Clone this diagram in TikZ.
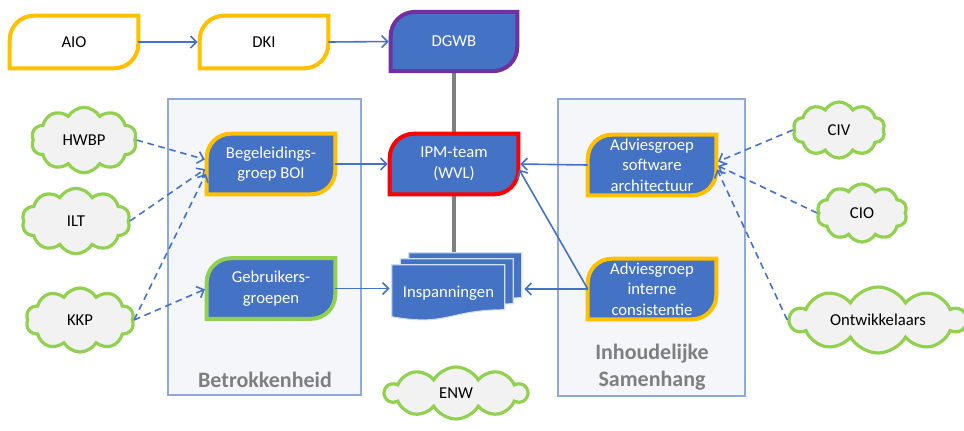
\documentclass[tikz,border=0pt]{standalone}
\usepackage{fontspec}
\setmainfont{Carlito}
\usetikzlibrary{shapes.symbols,arrows.meta,calc,positioning}

\definecolor{fillblue}{HTML}{4472C4}
\definecolor{lineblue}{HTML}{4472C4}
\definecolor{boxyellow}{HTML}{FFC000}
\definecolor{boxgreen}{HTML}{92D050}
\definecolor{boxred}{HTML}{FF0000}
\definecolor{boxpurple}{HTML}{7030A0}
\definecolor{panelfill}{HTML}{F4F6FA}
\definecolor{panelline}{HTML}{8EA9DB}
\definecolor{cloudfill}{HTML}{F2F2F2}
\definecolor{labelgray}{HTML}{7F7F7F}

\pgfdeclarelayer{panel}
\pgfdeclarelayer{bg}
\pgfsetlayers{panel,bg,main}

\newcommand\leaf[3]{%
  \begin{pgfonlayer}{bg}
  \draw[line width=3pt,draw=#2,fill=#3] (#1.south west) -- ([yshift=-18pt]#1.north west)
    arc[start angle=180,end angle=90,radius=18pt] -- (#1.north east) -- ([yshift=18pt]#1.south east)
    arc[start angle=0,end angle=-90,radius=18pt] -- cycle;
  \end{pgfonlayer}}

\newcommand\docsheet[2]{%
  \begin{pgfonlayer}{bg}
  \begin{scope}[shift={(insp.north west)},shift={(#1,#2)}]
  \draw[fill=fillblue,draw=white!75!fillblue,line width=0.8pt] (0,0) -- (113,0) -- (113,-45)
    .. controls (56.5,-45) and (56.5,-62) .. (0,-52) -- cycle;
  \end{scope}
  \end{pgfonlayer}}

\begin{document}
\begin{tikzpicture}[x=0.75pt,y=0.75pt,
  leafbox/.style={minimum width=96pt,minimum height=45pt,inner sep=0pt,align=center,
    text=white,font=\fontsize{12.5}{15.5}\selectfont},
  topbox/.style={leafbox,minimum height=39pt,text=black},
  docbox/.style={minimum width=84.75pt,minimum height=42pt,inner sep=0pt,text=white,
    font=\fontsize{12.5}{15.5}\selectfont},
  cloudnode/.style={cloud,cloud puffs=10,cloud puff arc=120,cloud ignores aspect,draw=boxgreen,
    fill=cloudfill,line width=2.4pt,inner sep=0pt,font=\fontsize{12.5}{15.5}\selectfont},
  panellabel/.style={align=center,text=labelgray,font=\fontsize{16.5}{20}\selectfont\bfseries},
  flow/.style={draw=lineblue,line width=1.2pt,shorten >=1.5pt,-{Straight Barb[length=4.5pt,width=9pt]}},
  dashflow/.style={flow,dash pattern=on 5pt off 3.5pt},
  link/.style={draw=labelgray,line width=3pt}]

\useasboundingbox (0,0) rectangle (964,-430);

\begin{pgfonlayer}{panel}
\draw[panelline,fill=panelfill,line width=0.8pt] (168,-99) rectangle (361,-395);
\draw[panelline,fill=panelfill,line width=0.8pt] (558,-99) rectangle (745,-396);
\end{pgfonlayer}
\node[panellabel] (betr) at (265,-380) {Betrokkenheid};
\node[panellabel] (samh) at (652,-367) {Inhoudelijke\\Samenhang};

\node[topbox] (aio) at (74,-42) {AIO};
\node[topbox] (dki) at (264,-42) {DKI};
\node[leafbox,minimum width=94.5pt,minimum height=44pt] (dgwb) at (454,-41.5) {DGWB};
\node[leafbox] (bog) at (271,-164) {Begeleidings-\\groep BOI};
\node[leafbox] (gebr) at (271,-288.5) {Gebruikers-\\groepen};
\node[leafbox] (ipm) at (454,-164) {IPM-team\\(WVL)};
\node[leafbox] (advsw) at (652,-165) {Adviesgroep\\software\\architectuur};
\node[leafbox] (advic) at (652,-289) {Adviesgroep\\interne\\consistentie};
\node[docbox] (insp) at (448.5,-293) {Inspanningen};
\coordinate (insptop) at ([shift={(17,12)}]insp.north);
\coordinate (inspback) at ([shift={(17,0)}]insp.east);

\node[cloudnode,minimum width=79pt,minimum height=49pt] (hwbp) at (84,-140) {HWBP};
\node[cloudnode,minimum width=81pt,minimum height=49pt] (ilt) at (76,-221) {ILT};
\node[cloudnode,minimum width=81pt,minimum height=48pt] (kkp) at (80,-320) {KKP};
\node[cloudnode,minimum width=69pt,minimum height=42pt] (civ) at (839,-130) {CIV};
\node[cloudnode,minimum width=67.5pt,minimum height=43.5pt] (cio) at (862,-213) {CIO};
\node[cloudnode,minimum width=132pt,minimum height=49.5pt] (ontw) at (878,-320) {Ontwikkelaars};
\node[cloudnode,minimum width=106.5pt,minimum height=39pt] (enw) at (456,-393) {ENW};

\begin{pgfonlayer}{bg}
\draw[link] (dgwb.south) -- (ipm.north);
\draw[link] (ipm.south) -- (ipm.south |- insptop);
\end{pgfonlayer}

\leaf{aio}{boxyellow}{white}
\leaf{dki}{boxyellow}{white}
\leaf{dgwb}{boxpurple}{fillblue}
\leaf{bog}{boxyellow}{fillblue}
\leaf{gebr}{boxgreen}{fillblue}
\leaf{ipm}{boxred}{fillblue}
\leaf{advsw}{boxyellow}{fillblue}
\leaf{advic}{boxyellow}{fillblue}
\docsheet{17}{12}
\docsheet{8.5}{6}
\docsheet{0}{0}

\draw[flow] (aio.east) -- (dki.west);
\draw[flow] (dki.east) -- (dgwb.west);
\draw[flow] (bog.east) -- (ipm.west);
\draw[flow] (gebr.east) -- (gebr.east -| insp.west);
\draw[flow] (advsw.west) -- (ipm.east);
\draw[flow] (advic.west) -- (advic.west -| inspback);
\draw[flow] (advic.west) -- ([yshift=-3pt]ipm.east);

\draw[dashflow] (hwbp.east) -- ([yshift=3pt]bog.west);
\draw[dashflow] (ilt.east) -- ([yshift=-3pt]bog.west);
\draw[dashflow] (kkp.east) -- ([yshift=-6pt]bog.west);
\draw[dashflow] (kkp.east) -- (gebr.west);
\draw[dashflow] (civ.west) -- ([yshift=2pt]advsw.east);
\draw[dashflow] (cio.west) -- (advsw.east);
\draw[dashflow] (ontw.west) -- ([yshift=-2pt]advsw.east);
\end{tikzpicture}
\end{document}
